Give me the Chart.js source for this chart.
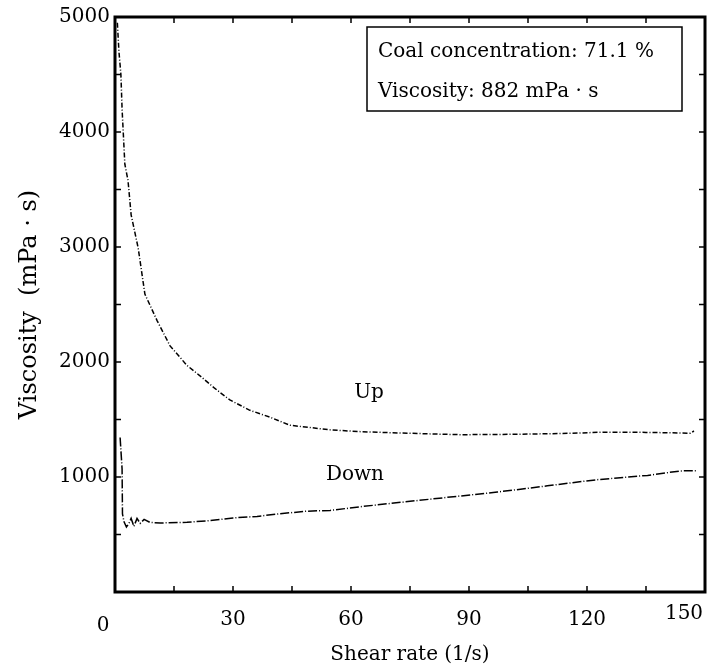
<!DOCTYPE html>
<html>
<head>
<meta charset="utf-8">
<title>Viscosity vs shear rate</title>
<script src="https://cdn.jsdelivr.net/npm/chart.js@4.4.1/dist/chart.umd.min.js"></script>
<style>
  html, body { margin: 0; padding: 0; background: #fff; }
  #wrap { width: 728px; height: 672px; }
</style>
</head>
<body>
<div id="wrap"><canvas id="cv" width="728" height="672"></canvas></div>
<script>
// shear rate (1/s) / viscosity (mPa·s), rising sweep
var upShear = [0.6, 1.0, 1.5, 1.8, 2.5, 3.3, 4.1, 5.9, 7.6, 10.7, 14.0, 18.3, 21.6, 25.4, 29.2, 34.3, 39.4, 44.5, 49.6, 54.7, 62, 70, 80, 88, 98, 108, 116, 124, 135, 146.3, 147.2];
var upViscosity = [4950, 4700, 4500, 4200, 3720, 3580, 3280, 2990, 2590, 2360, 2140, 1970, 1880, 1770, 1670, 1580, 1520, 1450, 1430, 1410, 1395, 1385, 1375, 1368, 1370, 1375, 1380, 1390, 1388, 1381, 1400];

// falling sweep
var downShear = [1.3, 1.8, 1.9, 2.3, 2.9, 3.6, 4.1, 4.8, 5.6, 6.4, 7.4, 8.9, 11.5, 18.3, 24.2, 30.0, 36.1, 42.0, 48.9, 54.7, 62, 70, 84.5, 97.2, 109.9, 122.6, 135.4, 143.8, 148.1];
var downViscosity = [1344, 1070, 680, 610, 565, 600, 640, 570, 640, 597, 631, 605, 600, 606, 621, 644, 657, 681, 703, 709, 740, 770, 823, 869, 923, 977, 1014, 1053, 1055];

var xTicks = [0, 30, 60, 90, 120, 150];
var yTicks = [0, 1000, 2000, 3000, 4000, 5000];
var infoLines = ["Coal concentration: 71.1 %", "Viscosity: 882 mPa \u00b7 s"];

var FONT = "'DejaVu Serif', 'Liberation Serif', serif";

function toPoints(xs, ys) {
    var pts = [];
    for (var i = 0; i < xs.length; i++) {
        pts.push({ x: xs[i], y: ys[i] });
    }
    return pts;
}

// frame, inner tick marks, end labels, curve labels and the info box
var decorPlugin = {
    id: 'decor',
    afterDraw: function (chart) {
        var ctx = chart.ctx;
        var a = chart.chartArea;
        var sx = chart.scales.x, sy = chart.scales.y;
        ctx.save();
        ctx.strokeStyle = '#000';
        ctx.lineWidth = 1.5;
        ctx.beginPath();
        for (var v = 15; v < 150; v += 15) {
            var px = sx.getPixelForValue(v);
            ctx.moveTo(px, a.bottom); ctx.lineTo(px, a.bottom - 6);
            ctx.moveTo(px, a.top); ctx.lineTo(px, a.top + 6);
        }
        for (var w = 500; w < 5000; w += 500) {
            var py = sy.getPixelForValue(w);
            ctx.moveTo(a.left, py); ctx.lineTo(a.left + 6, py);
            ctx.moveTo(a.right, py); ctx.lineTo(a.right - 6, py);
        }
        ctx.stroke();

        ctx.lineWidth = 3;
        ctx.strokeRect(a.left, a.top, a.right - a.left, a.bottom - a.top);

        // first and last x labels sit inward of their ticks
        ctx.fillStyle = '#000';
        ctx.font = "20px " + FONT;
        ctx.textAlign = 'center';
        ctx.textBaseline = 'top';
        ctx.fillText(String(xTicks[0]), sx.getPixelForValue(xTicks[0]) - 12, a.bottom + 24);
        ctx.fillText(String(xTicks[xTicks.length - 1]), sx.getPixelForValue(xTicks[xTicks.length - 1]) - 21, a.bottom + 12);

        ctx.textBaseline = 'middle';
        ctx.fillText('Up', sx.getPixelForValue(64.6), sy.getPixelForValue(1730));
        ctx.fillText('Down', sx.getPixelForValue(61), sy.getPixelForValue(1020));

        // info box
        var bx = a.left + 252, by = a.top + 10, bw = 315, bh = 84;
        ctx.fillStyle = '#fff';
        ctx.fillRect(bx, by, bw, bh);
        ctx.lineWidth = 1.5;
        ctx.strokeRect(bx, by, bw, bh);
        ctx.fillStyle = '#000';
        ctx.font = "20px " + FONT;
        ctx.textAlign = 'left';
        ctx.textBaseline = 'alphabetic';
        ctx.fillText(infoLines[0], bx + 11, by + 30);
        ctx.fillText(infoLines[1], bx + 11, by + 70);
        ctx.restore();
    }
};

new Chart(document.getElementById('cv'), {
    type: 'scatter',
    data: {
        datasets: [
            {
                label: 'Up',
                data: toPoints(upShear, upViscosity),
                showLine: true,
                borderColor: '#000',
                borderWidth: 1.5,
                borderDash: [5, 2, 1, 2],
                pointRadius: 0,
                tension: 0
            },
            {
                label: 'Down',
                data: toPoints(downShear, downViscosity),
                showLine: true,
                borderColor: '#000',
                borderWidth: 1.5,
                borderDash: [9, 2, 1, 2],
                pointRadius: 0,
                tension: 0
            }
        ]
    },
    options: {
        responsive: false,
        animation: false,
        layout: { padding: { top: 17, right: 23, left: 0, bottom: 0 } },
        plugins: {
            legend: { display: false },
            tooltip: { enabled: false }
        },
        scales: {
            x: {
                type: 'linear',
                min: 0,
                max: 150,
                afterBuildTicks: function (s) { s.ticks = xTicks.map(function (v) { return { value: v }; }); },
                afterFit: function (s) {
                    s.height = 80;
                    s.paddingLeft = 0;
                    s.paddingRight = 0;
                },
                grid: { display: false, drawTicks: false },
                border: { display: false },
                ticks: {
                    color: '#000',
                    font: { family: FONT, size: 20 },
                    padding: 16,
                    maxRotation: 0,
                    callback: function (v) { return (v === 0 || v === 150) ? '' : String(v); }
                },
                title: {
                    display: true,
                    text: 'Shear rate (1/s)',
                    color: '#000',
                    font: { family: FONT, size: 20 },
                    padding: { top: 0, bottom: 5 }
                }
            },
            y: {
                type: 'linear',
                min: 0,
                max: 5000,
                afterBuildTicks: function (s) { s.ticks = yTicks.map(function (v) { return { value: v }; }); },
                afterFit: function (s) { s.width = 115; },
                grid: { display: false, drawTicks: false },
                border: { display: false },
                ticks: {
                    color: '#000',
                    font: { family: FONT, size: 20 },
                    padding: 5,
                    callback: function (v) { return v === 0 ? '' : String(v); }
                },
                title: {
                    display: true,
                    text: 'Viscosity  (mPa \u00b7 s)',
                    color: '#000',
                    font: { family: FONT, size: 24 },
                    padding: { top: 15, bottom: 0 }
                }
            }
        }
    },
    plugins: [decorPlugin]
});
</script>
</body>
</html>
